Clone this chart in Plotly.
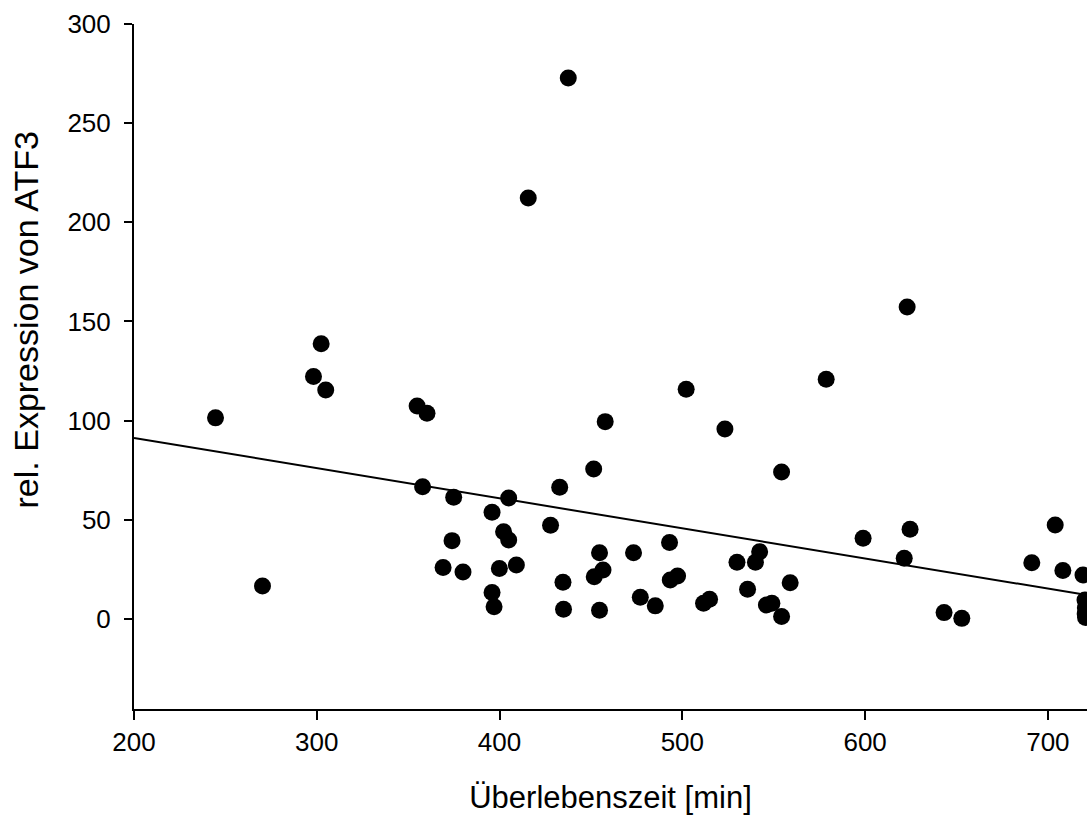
import plotly.graph_objects as go

# Survival time [min] and relative ATF3 expression per sample
survival_min = [
    244.6, 270.3, 298.2, 302.4, 304.9, 354.9, 360.3, 357.9, 374.9, 374.0,
    369.1, 380.0, 395.9, 402.2, 405.0, 405.0, 399.9, 409.2, 395.9, 397.0,
    415.7, 437.6, 432.9, 427.9, 434.7, 435.0, 451.5, 457.8, 454.7, 456.6,
    451.8, 454.7, 473.3, 477.0, 485.2, 493.0, 493.4, 497.4, 502.1, 511.6,
    514.9, 523.3, 529.9, 535.7, 540.0, 542.3, 546.0, 549.0, 554.3, 554.3,
    559.0, 578.7, 598.9, 621.4, 623.0, 624.6, 643.2, 652.9, 691.2, 704.0,
    708.2, 719.2, 720.3, 720.5, 720.4, 720.6,
]
atf3_expression = [
    101.4, 16.6, 122.2, 138.8, 115.5, 107.4, 103.7, 66.7, 61.4, 39.5,
    25.9, 23.7, 53.8, 44.0, 39.8, 61.0, 25.5, 27.2, 13.3, 6.2,
    212.3, 272.8, 66.4, 47.2, 18.5, 4.9, 75.6, 99.5, 33.4, 24.7,
    21.3, 4.4, 33.4, 10.9, 6.6, 38.5, 19.7, 21.7, 115.8, 7.9,
    9.9, 95.8, 28.6, 15.0, 28.6, 33.9, 7.0, 7.9, 74.1, 1.2,
    18.3, 120.9, 40.7, 30.6, 157.3, 45.2, 3.2, 0.3, 28.4, 47.4,
    24.4, 22.2, 9.5, 5.5, 2.5, 0.8,
]

# Regression line coefficients (expression = intercept + slope * minutes)
fit_intercept = 121.7
fit_slope = -0.152

x_range = [200, 721.4]
y_range = [-45.4, 300]
x_ticks = [200, 300, 400, 500, 600, 700]
y_ticks = [0, 50, 100, 150, 200, 250, 300]

fit_x = x_range
fit_y = [fit_intercept + fit_slope * v for v in fit_x]

font_family = "Liberation Sans, Arial, sans-serif"

fig = go.Figure()
fig.add_trace(go.Scatter(
    x=fit_x, y=fit_y, mode="lines",
    line=dict(color="black", width=2),
    showlegend=False, hoverinfo="skip",
))
fig.add_trace(go.Scatter(
    x=survival_min, y=atf3_expression, mode="markers",
    marker=dict(color="black", size=17, line=dict(width=0)),
    showlegend=False,
))

fig.update_layout(
    width=1087, height=825,
    margin=dict(l=133.5, r=0, t=24, b=116, pad=0),
    paper_bgcolor="white", plot_bgcolor="white",
    font=dict(family=font_family, color="black", size=26),
    annotations=[dict(
        text="rel. Expression von ATF3",
        xref="paper", yref="paper",
        x=-0.1138, y=0.568, xanchor="center", yanchor="middle",
        textangle=-90, showarrow=False,
        font=dict(size=34),
    )],
)
fig.update_xaxes(
    range=x_range, tickvals=x_ticks,
    showline=True, linecolor="black", linewidth=2,
    ticks="outside", ticklen=9, tickwidth=2, tickcolor="black",
    showgrid=False, zeroline=False,
    tickfont=dict(size=26),
    title=dict(text="Überlebenszeit [min]", font=dict(size=31), standoff=30),
)
fig.update_yaxes(
    range=y_range, tickvals=y_ticks,
    showline=True, linecolor="black", linewidth=2,
    ticks="outside", ticklen=8, tickwidth=2, tickcolor="black",
    ticklabelstandoff=8,
    showgrid=False, zeroline=False,
    tickfont=dict(size=26),
)

fig.write_html("out.html")
